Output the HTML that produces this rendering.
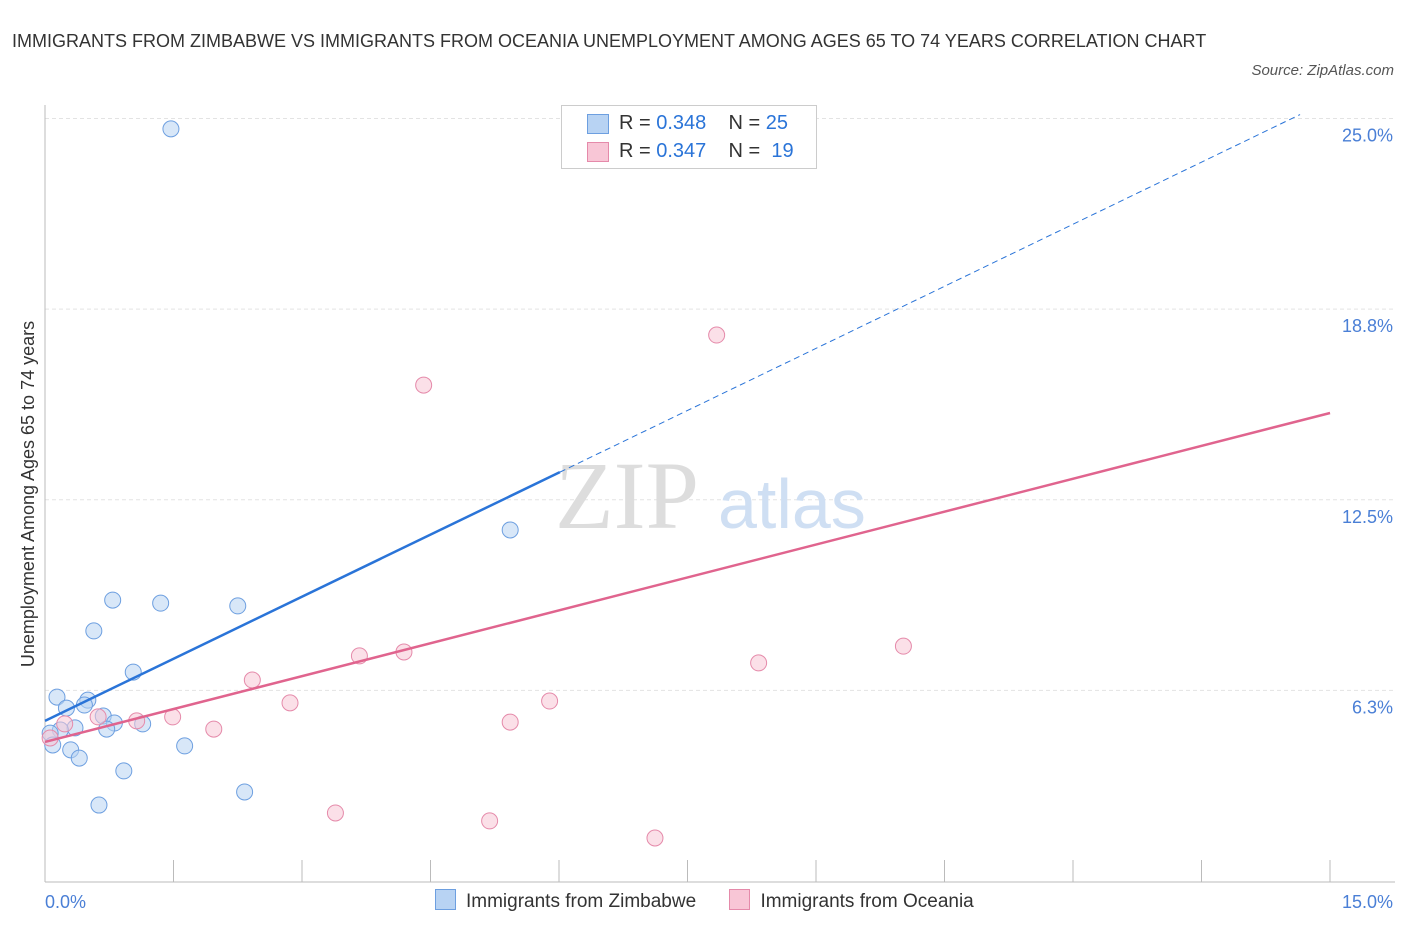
<!DOCTYPE html>
<html><head><meta charset="utf-8"><style>
body{margin:0;background:#fff;font-family:"Liberation Sans",sans-serif;}
#wrap{position:relative;width:1406px;height:930px;overflow:hidden}
.t{position:absolute;color:#333}
</style></head><body>
<div id="wrap">
<div class="t" style="left:12px;top:22px;font-size:18px;line-height:38px;width:1200px;color:#333">IMMIGRANTS FROM ZIMBABWE VS IMMIGRANTS FROM OCEANIA UNEMPLOYMENT AMONG AGES 65 TO 74 YEARS CORRELATION CHART</div>
<div class="t" style="right:12px;top:62px;font-size:15px;font-style:italic;color:#555">Source: ZipAtlas.com</div>
<svg id="svg" width="1406" height="930" style="position:absolute;left:0;top:0"></svg>
</div>
<script>
const yTicks=[6.3,12.5,18.8,25.0];
const yTickLabels=["6.3%","12.5%","18.8%","25.0%"];
const xTickLabels=["0.0%","15.0%"];
const zimX=[1.47,5.43,0.79,1.35,2.25,0.57,1.03,0.14,0.50,0.46,0.25,0.68,0.81,1.14,0.35,0.72,0.18,0.06,0.09,0.30,1.63,0.40,0.92,2.33,0.63];
const zimY=[24.66,11.51,9.21,9.11,9.02,8.20,6.85,6.03,5.93,5.77,5.67,5.41,5.18,5.15,5.02,4.98,4.95,4.85,4.46,4.30,4.43,4.03,3.61,2.92,2.49];
const ocX=[6.97,7.84,4.42,10.02,4.19,3.67,8.33,2.42,5.89,2.86,0.62,1.49,1.07,5.43,1.97,0.23,0.06,3.39,5.19,7.12];
const ocY=[25.05,17.90,16.26,7.70,7.51,7.38,7.15,6.59,5.90,5.84,5.38,5.38,5.25,5.21,4.98,5.15,4.69,2.23,1.97,1.41];
const zimLine=[5.25,1.357]; // intercept, slope
const ocLine=[4.56,0.719];
const NS="http://www.w3.org/2000/svg";
const svg=document.getElementById('svg');
const X=v=>45+v*85.67, Y=v=>881-v*30.5;
function mk(tag,attrs){const e=document.createElementNS(NS,tag);for(const k in attrs)e.setAttribute(k,attrs[k]);svg.appendChild(e);return e;}
// gridlines
yTicks.forEach((t,i)=>{
 const g=mk('line',{x1:45,x2:1395,y1:Y(t===6.3?6.25:t===18.8?18.75:t),y2:Y(t===6.3?6.25:t===18.8?18.75:t),stroke:'#e3e3e3','stroke-dasharray':'4,3'});
 
 
 const tx=mk('text',{x:1393,y:Y(t===6.3?6.25:t===18.8?18.75:t)+23,'text-anchor':'end','font-size':18,fill:'#4a7fd6','font-family':'Liberation Sans, sans-serif'});
 tx.textContent=yTickLabels[i];
 
 
});
let a=mk('line',{x1:45,x2:45,y1:105,y2:882,stroke:'#bbb'});

a=mk('line',{x1:45,x2:1395,y1:882,y2:882,stroke:'#bbb'});

for(let i=1;i<=10;i++){const tk=mk('line',{x1:45+i*128.5,x2:45+i*128.5,y1:860,y2:882,stroke:'#bbb'});
 
 }
[[xTickLabels[0],45,'start'],[xTickLabels[1],1393,'end']].forEach(d=>{const tx=mk('text',{x:d[1],y:908,'text-anchor':d[2],'font-size':18,fill:'#4a7fd6','font-family':'Liberation Sans, sans-serif'});tx.textContent=d[0];
 
 });
// watermark
let w=mk('text',{x:555,y:528,'font-size':96,fill:'#ddd','font-family':'Liberation Serif, serif'});w.textContent='ZIP';

w=mk('text',{x:718,y:528,'font-size':70,fill:'#cfdff3','font-family':'Liberation Sans, sans-serif'});w.textContent='atlas';

// points
function pts(xs,ys,fill,stroke,name){xs.forEach((x,i)=>{const c=mk('circle',{cx:X(x),cy:Y(ys[i]),r:8,fill:fill,stroke:stroke,'stroke-width':1,'fill-opacity':0.55});
 
 });}
pts(zimX,zimY,'#b8d3f3','#6d9fe0','zimbabwe-point');
pts(ocX,ocY,'#f8c6d6','#e58aaa','oceania-point');
// trend lines
let l=mk('line',{x1:X(0),y1:Y(zimLine[0]),x2:X(6.01),y2:Y(zimLine[0]+zimLine[1]*6.01),stroke:'#2a74d8','stroke-width':2.5});

l=mk('line',{x1:X(6.01),y1:Y(zimLine[0]+zimLine[1]*6.01),x2:X(14.65),y2:Y(zimLine[0]+zimLine[1]*14.65),stroke:'#2a74d8','stroke-width':1,'stroke-dasharray':'6,4'});

l=mk('line',{x1:X(0),y1:Y(ocLine[0]),x2:X(15),y2:Y(ocLine[0]+ocLine[1]*15),stroke:'#e0648e','stroke-width':2.5});

// y title
const yt=mk('text',{x:0,y:0,transform:'translate(34,494) rotate(-90)','text-anchor':'middle','font-size':18,fill:'#333','font-family':'Liberation Sans, sans-serif'});
yt.textContent='Unemployment Among Ages 65 to 74 years';

</script>
<div style="position:absolute;left:561px;top:105px;width:254px;height:62px;border:1px solid #ccc;background:#fff;font-size:20px;color:#333">
 <div style="position:absolute;left:25px;top:8px;width:20px;height:18px;background:#b8d3f3;border:1px solid #6d9fe0"></div>
 <div style="position:absolute;left:57px;top:6px">R = <span style="color:#2a74d8">0.348</span>&nbsp;&nbsp;&nbsp; N = <span style="color:#2a74d8">25</span></div>
 <div style="position:absolute;left:25px;top:36px;width:20px;height:18px;background:#f8c6d6;border:1px solid #e58aaa"></div>
 <div style="position:absolute;left:57px;top:34px">R = <span style="color:#2a74d8">0.347</span>&nbsp;&nbsp;&nbsp; N = &nbsp;<span style="color:#2a74d8">19</span></div>
</div>
<div style="position:absolute;left:435px;top:889px;font-size:19px;color:#333;white-space:nowrap">
 <span><span style="display:inline-block;width:19px;height:19px;background:#b8d3f3;border:1px solid #6d9fe0;vertical-align:-3px;margin-right:10px"></span>Immigrants from Zimbabwe</span>
 <span style="margin-left:28px"><span style="display:inline-block;width:19px;height:19px;background:#f8c6d6;border:1px solid #e58aaa;vertical-align:-3px;margin-right:10px"></span>Immigrants from Oceania</span>
</div>
</body></html>
